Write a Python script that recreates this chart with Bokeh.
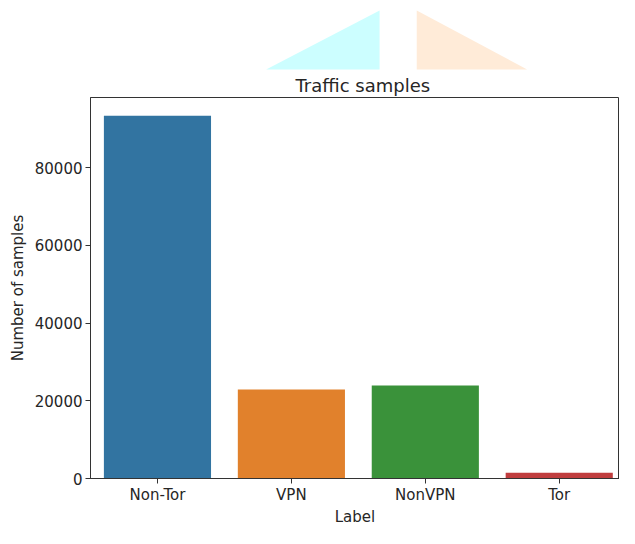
from bokeh.plotting import figure
from bokeh.layouts import column
from bokeh.models import ColumnDataSource, Range1d, FixedTicker
from bokeh.embed import file_html
from bokeh.resources import INLINE

labels = ["Non-Tor", "VPN", "NonVPN", "Tor"]
samples = [93400, 22900, 23950, 1450]
colors = ["#3274a1", "#e1812c", "#3a923a", "#c03d3e"]
y_ticks = [0, 20000, 40000, 60000, 80000]

x = list(range(len(labels)))
src = ColumnDataSource(dict(x=x, top=samples, color=colors, label=labels))

FONT = "DejaVu Sans"
TXT = "#262626"
W = 619

# decorative strip (two pale triangles at the top of the screenshot), drawn in pixel units;
# its frame is aligned with the chart frame below (about x = 90 .. 617)
deco = figure(width=W, height=70, output_backend="svg", toolbar_location=None,
              x_range=Range1d(90, 617), y_range=Range1d(70, 0),
              x_axis_type=None, y_axis_type=None, min_border=0,
              outline_line_color=None)
deco.xgrid.visible = False
deco.ygrid.visible = False
deco.patches(xs=[[265, 378, 378], [415, 415, 525]], ys=[[69, 10, 69], [10, 69, 69]],
             fill_color=["#ccfeff", "#ffebd8"], line_color=None)

p = figure(width=W, height=458, output_backend="svg", toolbar_location=None,
           x_range=Range1d(-0.5, 3.45), y_range=Range1d(0, max(samples) * 1.05),
           title="Traffic samples",
           min_border_left=90, min_border_right=0, min_border_top=26, min_border_bottom=20)

p.vbar(x="x", top="top", width=0.8, color="color", line_color=None, source=src)

p.title.align = "left"
p.title.offset = 205
p.title.text_font = FONT
p.title.text_font_size = "18px"
p.title.text_font_style = "normal"
p.title.text_color = TXT
p.title.standoff = 4

p.xgrid.visible = False
p.ygrid.visible = False
p.outline_line_color = "#333333"
p.outline_line_width = 1
p.background_fill_color = "white"
p.border_fill_color = "white"

p.xaxis.ticker = FixedTicker(ticks=x)
p.xaxis.major_label_overrides = {i: l for i, l in zip(x, labels)}
p.yaxis.ticker = FixedTicker(ticks=y_ticks)
p.yaxis.formatter.use_scientific = False

for ax in (p.xaxis, p.yaxis):
    ax.major_label_text_font = FONT
    ax.major_label_text_font_size = "15px"
    ax.major_label_text_color = TXT
    ax.axis_label_text_font = FONT
    ax.axis_label_text_font_size = "15px"
    ax.axis_label_text_font_style = "normal"
    ax.axis_label_text_color = TXT
    ax.major_tick_in = 0
    ax.major_tick_out = 5
    ax.minor_tick_line_color = None
    ax.axis_line_color = "#333333"
    ax.major_tick_line_color = "#333333"

p.xaxis.major_label_standoff = 2
p.xaxis.axis_label_standoff = 1
p.yaxis.major_label_standoff = 3
p.yaxis.axis_label_standoff = 5

p.xaxis.axis_label = "Label"
p.yaxis.axis_label = "Number of samples"

layout = column(deco, p, spacing=0)
open("out.html", "w").write(file_html(layout, INLINE))
